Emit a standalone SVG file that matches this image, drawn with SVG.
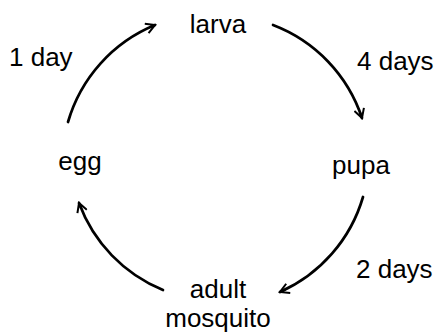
<svg xmlns="http://www.w3.org/2000/svg" width="440" height="334" viewBox="0 0 440 334">
  <style>
    .lbl { font-family: "Liberation Sans", Arial, sans-serif; font-size: 26px; fill: #000; }
    .mid { text-anchor: middle; }
    .arc { fill: none; stroke: #000; stroke-width: 2.7; stroke-linecap: round; }
  </style>
  <defs>
    <marker id="arrow" viewBox="0 0 12 12" refX="10" refY="6" markerWidth="12" markerHeight="12" markerUnits="userSpaceOnUse" orient="auto">
      <path d="M1,1 L10,6 L1,11 M4,6 L10,6" fill="none" stroke="#000" stroke-width="2" stroke-linejoin="miter"/>
    </marker>
  </defs>
  <rect width="440" height="334" fill="#fff"/>
  <g id="connectors">
    <path class="arc" d="M 68 122 A 150 150 0 0 1 155 25" marker-end="url(#arrow)"/>
    <path class="arc" d="M 273 25 A 150 150 0 0 1 362 118" marker-end="url(#arrow)"/>
    <path class="arc" d="M 363 197 A 150 150 0 0 1 280 292" marker-end="url(#arrow)"/>
    <path class="arc" d="M 163 290 A 150 150 0 0 1 79 203" marker-end="url(#arrow)"/>
  </g>
  <g id="larva"><text class="lbl mid" x="218" y="33">larva</text></g>
  <g id="pupa"><text class="lbl mid" x="361" y="174">pupa</text></g>
  <g id="adult"><text class="lbl mid" x="218" y="298">adult</text><text class="lbl mid" x="218" y="327">mosquito</text></g>
  <g id="egg"><text class="lbl mid" x="80" y="170">egg</text></g>
  <g id="labels">
    <text class="lbl" x="9" y="66">1 day</text>
    <text class="lbl" x="357" y="70">4 days</text>
    <text class="lbl" x="356" y="278">2 days</text>
  </g>
</svg>
